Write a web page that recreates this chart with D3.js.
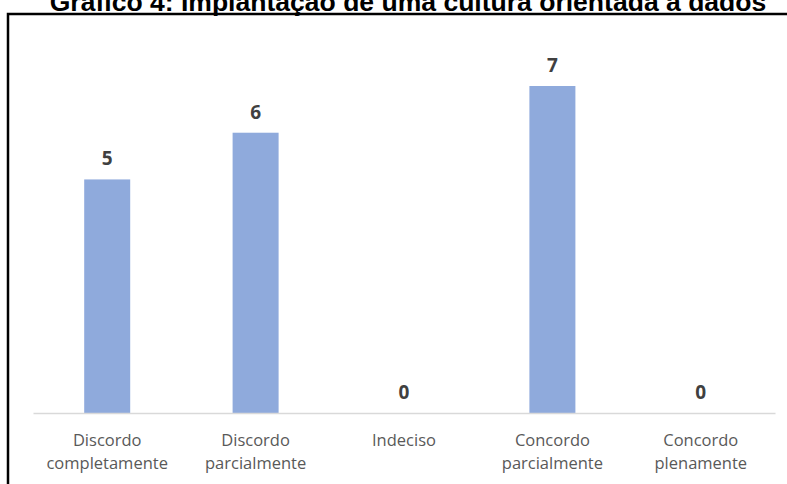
<!DOCTYPE html>
<html>
<head>
<meta charset="utf-8">
<script src="https://cdn.jsdelivr.net/npm/d3@7"></script>
<style>
  body { margin: 0; background: #fff; }
  svg { display: block; }
</style>
</head>
<body>
<svg width="787" height="484"></svg>
<script>
(function () {

    var categories = [
        ["Discordo", "completamente"],
        ["Discordo", "parcialmente"],
        ["Indeciso"],
        ["Concordo", "parcialmente"],
        ["Concordo", "plenamente"]
    ];
    var values = [5, 6, 0, 7, 0];
    var title = "Gráfico 4: Implantação de uma cultura orientada a dados";

    var svg = d3.select("svg"),
        width = +svg.attr("width"),
        height = +svg.attr("height");

    var data = categories.map((c, i) => ({ key: i, lines: c, value: values[i] }));

    var x = d3.scaleBand()
        .domain(data.map(d => d.key))
        .range([33, 775])
        .paddingInner(0.69)
        .paddingOuter(0.345);

    var y = d3.scaleLinear()
        .domain([0, 7])
        .range([413, 86]);

    // frame
    svg.append("path")
        .attr("d", "M8," + height + "V14H" + width)
        .attr("fill", "none")
        .attr("stroke", "#000")
        .attr("stroke-width", 2.5);

    // title (cut at top like the source)
    var t = svg.append("text")
        .attr("x", 408)
        .attr("y", 11)
        .attr("text-anchor", "middle")
        .attr("font-family", "Liberation Sans, Arial, sans-serif")
        .attr("font-weight", "bold")
        .attr("font-size", 20)
        .attr("fill", "#000")
        .text(title);
    var tw = t.node().getComputedTextLength();
    t.attr("font-size", 20 * 717 / tw);

    svg.selectAll(".bar")
        .data(data)
        .enter().append("rect")
        .attr("class", "bar")
        .attr("x", d => x(d.key))
        .attr("y", d => y(d.value))
        .attr("width", x.bandwidth())
        .attr("height", d => y(0) - y(d.value))
        .attr("fill", "#8faadc");

    // baseline
    var axis = svg.append("g")
        .attr("transform", "translate(0," + y(0) + ")")
        .call(d3.axisBottom(x).tickSize(0).tickFormat(""));
    axis.select(".domain")
        .attr("stroke", "#d9d9d9")
        .attr("stroke-width", 1.5);

    svg.selectAll(".value")
        .data(data)
        .enter().append("text")
        .attr("class", "value")
        .attr("x", d => x(d.key) + x.bandwidth() / 2)
        .attr("y", d => y(d.value) - 14)
        .attr("text-anchor", "middle")
        .attr("font-family", "Open Sans, sans-serif")
        .attr("font-weight", "bold")
        .attr("font-size", 19)
        .attr("fill", "#404040")
        .text(d => d.value);

    var lbl = svg.selectAll(".lbl")
        .data(data)
        .enter().append("text")
        .attr("class", "lbl")
        .attr("x", d => x(d.key) + x.bandwidth() / 2)
        .attr("y", 446)
        .attr("text-anchor", "middle")
        .attr("font-family", "Open Sans, sans-serif")
        .attr("font-size", 16.5)
        .attr("fill", "#595959");

    lbl.selectAll("tspan")
        .data(d => d.lines)
        .enter().append("tspan")
        .attr("x", function () { return d3.select(this.parentNode).attr("x"); })
        .attr("dy", (d, i) => i ? 23 : 0)
        .text(d => d);

})();
</script>
</body>
</html>
